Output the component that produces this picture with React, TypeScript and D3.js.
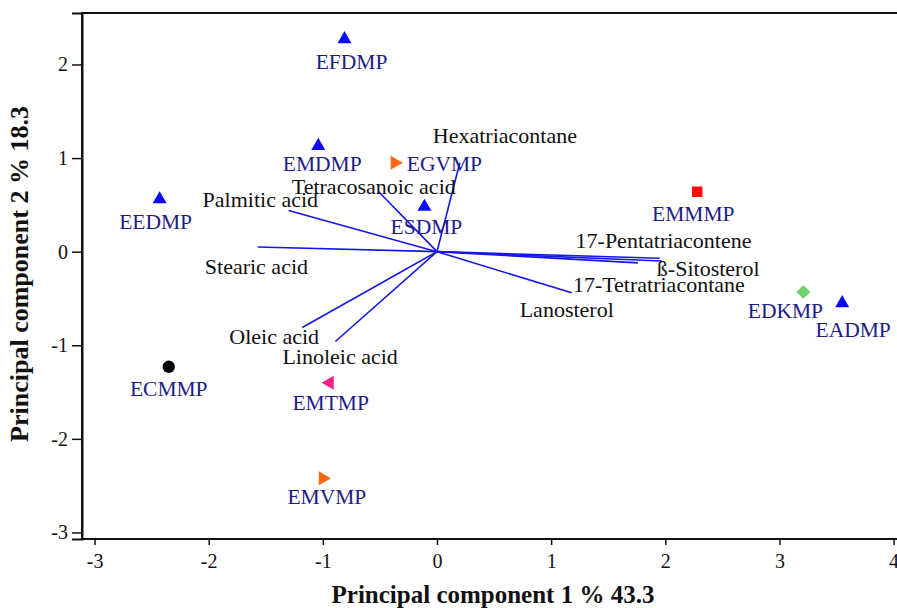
import { useRef, useEffect } from 'react';
import * as d3 from 'd3';

// Scores (samples)
const SAMPLE_NAMES = ['EFDMP', 'EMDMP', 'EGVMP', 'ESDMP', 'EEDMP', 'EMMMP', 'EDKMP', 'EADMP', 'ECMMP', 'EMTMP', 'EMVMP'];
const SAMPLE_PC1 = [-0.81, -1.04, -0.37, -0.11, -2.43, 2.28, 3.21, 3.55, -2.35, -0.94, -1.0];
const SAMPLE_PC2 = [2.27, 1.13, 0.95, 0.48, 0.56, 0.64, -0.43, -0.55, -1.23, -1.4, -2.42];
const SAMPLE_SHAPE = ['up', 'up', 'right', 'up', 'up', 'square', 'diamond', 'up', 'circle', 'left', 'right'];

// Loadings (compounds)
const VAR_NAMES = [
  'Hexatriacontane', 'Tetracosanoic acid', 'Palmitic acid', 'Stearic acid', 'Oleic acid',
  'Linoleic acid', 'Lanosterol', '17-Pentatriacontene', 'ß-Sitosterol', '17-Tetratriacontane',
];
const VAR_PC1 = [0.2, -0.51, -1.3, -1.57, -1.18, -0.89, 1.18, 1.95, 1.97, 1.76];
const VAR_PC2 = [0.95, 0.64, 0.44, 0.05, -0.81, -0.96, -0.44, -0.07, -0.1, -0.12];

const X_TICKS = [-3, -2, -1, 0, 1, 2, 3, 4];
const Y_TICKS = [-3, -2, -1, 0, 1, 2];

const X_LABEL = 'Principal component 1 % 43.3';
const Y_LABEL = 'Principal component 2 % 18.3';

// Layout
const W = 897;
const H = 608;
const PLOT = { left: 82, right: 897, top: 13, bottom: 539 };
const FONT = '"Liberation Serif", "Times New Roman", serif';

// label placement (pixels relative to marker / vector tip)
const SAMPLE_LABEL_POS: Record<string, [number, number, string]> = {
  EFDMP: [7, 30, 'middle'],
  EMDMP: [4, 25, 'middle'],
  EGVMP: [12, 8, 'start'],
  ESDMP: [2, 27, 'middle'],
  EEDMP: [-4, 30, 'middle'],
  EMMMP: [-4, 29, 'middle'],
  EDKMP: [-18, 26, 'middle'],
  EADMP: [11, 34, 'middle'],
  ECMMP: [0, 29, 'middle'],
  EMTMP: [1, 27, 'middle'],
  EMVMP: [4, 26, 'middle'],
};
const VAR_LABEL_POS: [number, number][] = [
  [-27, -20], [-87, 2], [-86, -3], [-53, 27], [-73, 17],
  [-53, 22], [-52, 24], [-84, -10], [-5, 15], [-65, 29],
];

const SHAPE_STYLE: Record<string, { color: string; symbol: d3.SymbolType; size: number; rotate: number }> = {
  up: { color: '#0a0aff', symbol: d3.symbolTriangle, size: 85, rotate: 0 },
  right: { color: '#ff6a10', symbol: d3.symbolTriangle, size: 85, rotate: 90 },
  left: { color: '#ff1e8c', symbol: d3.symbolTriangle, size: 85, rotate: -90 },
  square: { color: '#ff0a0a', symbol: d3.symbolSquare, size: 110, rotate: 0 },
  diamond: { color: '#6fd26f', symbol: d3.symbolSquare, size: 95, rotate: 45 },
  circle: { color: '#000000', symbol: d3.symbolCircle, size: 120, rotate: 0 },
};

export default function App() {
  const svgRef = useRef<SVGSVGElement>(null);

  useEffect(() => {
    const svg = svgRef.current;
    if (!svg) return;
    const root = d3.select(svg);
    root.selectAll('*').remove();

    const x = d3.scaleLinear().domain([-3.11, 4.03]).range([PLOT.left, PLOT.right]);
    const y = d3.scaleLinear().domain([-3.07, 2.55]).range([PLOT.bottom, PLOT.top]);

    root.append('rect').attr('width', W).attr('height', H).attr('fill', '#ffffff');

    // frame
    root.append('path')
      .attr('d', `M${PLOT.left},${PLOT.bottom}V${PLOT.top}H${PLOT.right + 5}`)
      .attr('fill', 'none')
      .attr('stroke', '#111')
      .attr('stroke-width', 2);

    // axes
    const xAxis = root.append('g')
      .attr('transform', `translate(0,${PLOT.bottom})`)
      .call(d3.axisBottom(x).tickValues(X_TICKS).tickSize(6).tickPadding(9).tickFormat(d3.format('d')));
    const yAxis = root.append('g')
      .attr('transform', `translate(${PLOT.left},0)`)
      .call(d3.axisLeft(y).tickValues(Y_TICKS).tickSize(10).tickPadding(4).tickFormat(d3.format('d')));

    [xAxis, yAxis].forEach((ax) => {
      ax.attr('font-family', FONT);
      ax.select('.domain').attr('stroke', '#111').attr('stroke-width', 2);
      ax.selectAll('.tick line').attr('stroke', '#111').attr('stroke-width', 1.5);
      ax.selectAll('.tick text')
        .attr('fill', '#111')
        .attr('font-family', FONT)
        .attr('font-size', '20px')
        .text((d) => String(d).replace('−', '-'));
    });
    xAxis.select('.domain').attr('d', `M${PLOT.left},0H${PLOT.right + 5}`);

    // loading vectors
    const vecs = root.append('g');
    VAR_NAMES.forEach((name, i) => {
      const x1 = x(VAR_PC1[i]);
      const y1 = y(VAR_PC2[i]);
      vecs.append('line')
        .attr('x1', x(0)).attr('y1', y(0))
        .attr('x2', x1).attr('y2', y1)
        .attr('stroke', '#1515ee')
        .attr('stroke-width', 1.6);
      const [dx, dy] = VAR_LABEL_POS[i];
      vecs.append('text')
        .attr('x', x1 + dx)
        .attr('y', y1 + dy)
        .attr('fill', '#111')
        .attr('font-family', FONT)
        .attr('font-size', '22px')
        .text(name);
    });

    // samples
    const pts = root.append('g');
    SAMPLE_NAMES.forEach((name, i) => {
      const cx = x(SAMPLE_PC1[i]);
      const cy = y(SAMPLE_PC2[i]);
      const st = SHAPE_STYLE[SAMPLE_SHAPE[i]];
      pts.append('path')
        .attr('d', d3.symbol(st.symbol, st.size)()!)
        .attr('transform', `translate(${cx},${cy}) rotate(${st.rotate})`)
        .attr('fill', st.color);
      const [dx, dy, anchor] = SAMPLE_LABEL_POS[name];
      pts.append('text')
        .attr('x', cx + dx)
        .attr('y', cy + dy)
        .attr('text-anchor', anchor)
        .attr('fill', '#1c1c86')
        .attr('font-family', FONT)
        .attr('font-size', '21.5px')
        .text(name);
    });

    // axis titles
    root.append('text')
      .attr('x', 493)
      .attr('y', 603)
      .attr('text-anchor', 'middle')
      .attr('font-family', FONT)
      .attr('font-weight', 'bold')
      .attr('font-size', '25px')
      .attr('fill', '#111')
      .text(X_LABEL);
    root.append('text')
      .attr('transform', `translate(28,274) rotate(-90)`)
      .attr('text-anchor', 'middle')
      .attr('font-family', FONT)
      .attr('font-weight', 'bold')
      .attr('font-size', '26px')
      .attr('fill', '#111')
      .text(Y_LABEL);
  }, []);

  return (
    <svg
      ref={svgRef}
      width={W}
      height={H}
      viewBox={`0 0 ${W} ${H}`}
      style={{ position: 'absolute', left: 0, top: 0, display: 'block' }}
    />
  );
}
